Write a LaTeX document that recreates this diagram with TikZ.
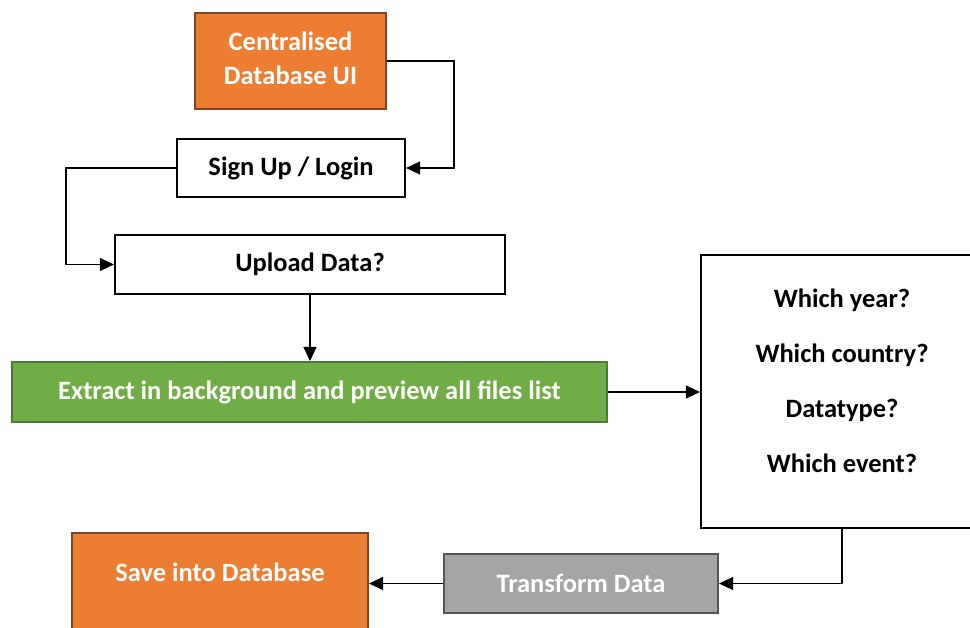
\documentclass[tikz,border=0pt]{standalone}
\usepackage{fontspec}
\setmainfont{Carlito}
\usetikzlibrary{arrows.meta}
\definecolor{accorange}{HTML}{ED7D31}
\definecolor{accorangeline}{HTML}{7F4520}
\definecolor{accgreen}{HTML}{70AD47}
\definecolor{accgreenline}{HTML}{4E7A30}
\definecolor{accgray}{HTML}{A5A5A5}
\definecolor{accgrayline}{HTML}{555555}
\begin{document}
\begin{tikzpicture}[x=1pt,y=-1pt,
  txt/.style={font=\fontsize{26.5}{34}\selectfont\bfseries, align=center},
  plainbox/.style={txt, draw=black, line width=2.2pt, fill=white, inner sep=0pt},
  orangebox/.style={txt, draw=accorangeline, line width=2pt, fill=accorange, text=white, inner sep=0pt},
  greenbox/.style={txt, draw=accgreenline, line width=2pt, fill=accgreen, text=white, inner sep=0pt},
  graybox/.style={txt, draw=accgrayline, line width=2pt, fill=accgray, text=white, inner sep=0pt},
  link/.style={draw=black, line width=1.2pt, -{Triangle[length=14pt,width=13pt]}}
]
\useasboundingbox (0,0) rectangle (970,628);
\clip (0,0) rectangle (970,628);

% boxes
\node[orangebox, minimum width=191pt, minimum height=96pt,
      label={[txt, text=white, yshift=3pt]center:Centralised\\Database UI}] (cdb) at (290.5,61) {};
\node[plainbox, minimum width=228pt, minimum height=58pt] (sign) at (291,168) {Sign Up / Login};
\node[plainbox, minimum width=390pt, minimum height=59pt] (upload) at (310,264.5) {Upload Data?};
\node[greenbox, minimum width=595pt, minimum height=60pt] (extract) at (309.5,392) {Extract in background and preview all files list};
\node[plainbox, minimum width=282pt, minimum height=273pt,
      label={[txt, font=\fontsize{26.5}{55}\selectfont\bfseries, yshift=10.5pt]center:Which year?\\Which country?\\Datatype?\\Which event?}] (q) at (842,391.5) {};
\node[graybox, minimum width=274pt, minimum height=59pt] (transform) at (581,583.5) {Transform Data};
\node[orangebox, minimum width=296pt, minimum height=127pt,
      label={[txt, text=white, yshift=24.5pt]center:Save into Database}] (save) at (220,596.5) {};

% connectors
\coordinate (c1) at (454,61);
\coordinate (c2) at (66,168);
\draw[link] (cdb.east) -- (c1) |- (sign.east);
\draw[link] (sign.west) -- (c2) |- (upload.west);
\draw[link] (upload.south) -- (upload.south |- extract.north);
\draw[link] (extract.east) -- (q.west |- extract.east);
\draw[link] (q.south) |- (transform.east);
\draw[link] (transform.west) -- (save.east |- transform.west);
\end{tikzpicture}
\end{document}
